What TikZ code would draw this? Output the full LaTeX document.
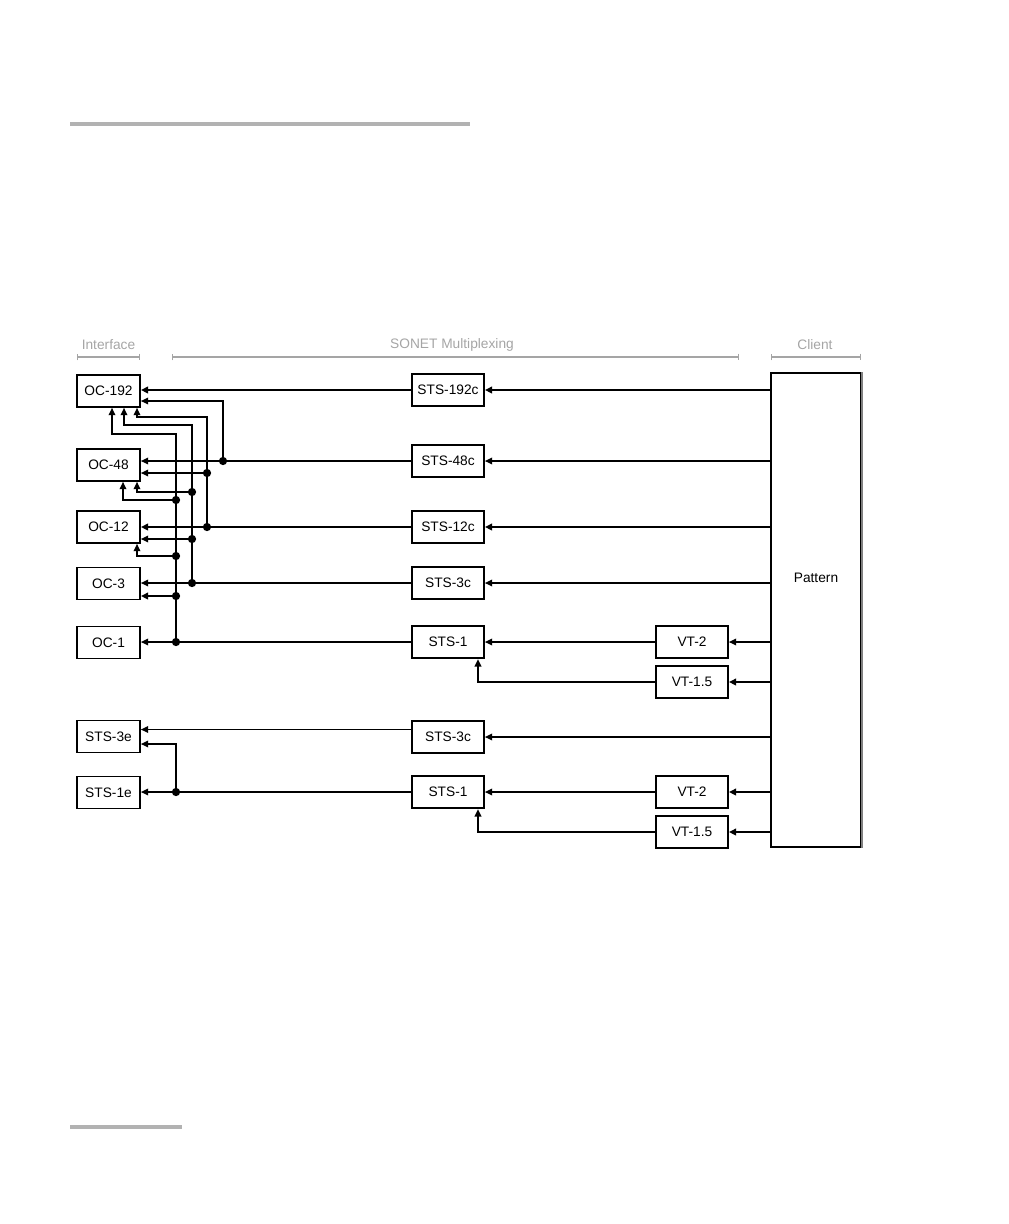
\documentclass[tikz,border=0pt]{standalone}
\usepackage{fontspec}
\setmainfont{Liberation Sans}
\usetikzlibrary{arrows.meta,calc}
\definecolor{hdr}{RGB}{165,165,165}
\definecolor{rulegray}{RGB}{178,178,178}
\begin{document}
\begin{tikzpicture}[x=0.75pt,y=-0.75pt,
  box/.style={draw,line width=1.3pt,inner sep=0pt,font=\fontsize{10.3}{12}\selectfont},
  obox/.style={box,minimum width=47.25pt,minimum height=24pt},
  sbox/.style={box,minimum width=54pt,minimum height=24.5pt},
  ln/.style={line width=1pt},
  thk/.style={line width=1.4pt},
  arr/.style={ln,-{Triangle[length=5.5pt,width=5pt]}},
  jdot/.style={circle,fill,inner sep=0pt,minimum size=6.2pt},
  hdrtxt/.style={text=hdr,font=\fontsize{10.3}{12}\selectfont},
  brk/.style={draw=hdr,line width=1pt,{Bar[width=5pt]}-{Bar[width=5pt]}}]
\useasboundingbox (0,0) rectangle (1008,1224);
% page rules
\fill[rulegray] (70,122) rectangle (470,126);
\fill[rulegray] (70,1125) rectangle (182,1129);
% headers
\node[hdrtxt] (hif) at (108.5,345) {Interface};
\node[hdrtxt] (hsm) at (452,345) {SONET Multiplexing};
\node[hdrtxt] (hcl) at (815,345) {Client};
\coordinate (bif1) at (77,357); \coordinate (bif2) at (140,357);
\coordinate (bsm1) at (172,357); \coordinate (bsm2) at (739,357);
\coordinate (bcl1) at (771,357); \coordinate (bcl2) at (861,357);
\draw[brk] (bif1) -- (bif2);
\draw[brk] (bsm1) -- (bsm2);
\draw[brk] (bcl1) -- (bcl2);
% interface boxes
\node[obox] (oc192) at (108.5,391) {OC-192};
\node[obox] (oc48) at (108.5,465) {OC-48};
\node[obox] (oc12) at (108.5,527) {OC-12};
\node[obox] (oc3) at (108.5,583.5) {OC-3};
\node[obox] (oc1) at (108.5,642.5) {OC-1};
\node[obox] (sts3e) at (108.5,736.5) {STS-3e};
\node[obox] (sts1e) at (108.5,792.5) {STS-1e};
% multiplexing boxes
\node[sbox] (s192) at (448,390) {STS-192c};
\node[sbox] (s48) at (448,461) {STS-48c};
\node[sbox] (s12) at (448,527) {STS-12c};
\node[sbox] (s3) at (448,583) {STS-3c};
\node[sbox] (s1) at (448,642) {STS-1};
\node[sbox] (s3b) at (448,737) {STS-3c};
\node[sbox] (s1b) at (448,792) {STS-1};
\node[sbox] (vt2) at (692,642) {VT-2};
\node[sbox] (vt15) at (692,682) {VT-1.5};
\node[sbox] (vt2b) at (692,792) {VT-2};
\node[sbox] (vt15b) at (692,832) {VT-1.5};
% pattern
\node[draw,line width=1.5pt,inner sep=0pt,minimum width=67.5pt,minimum height=355.5pt] (pat) at (816,610) {};
\draw[draw=gray,line width=1.3pt] (pat.north east) -- (pat.south east);
\node[font=\fontsize{10.3}{12}\selectfont] (pattxt) at (816,578) {Pattern};
% client to multiplexing
\draw[arr,thk] (pat.west |- s192) -- (s192.east);
\draw[arr] (pat.west |- s48) -- (s48.east);
\draw[arr,thk] (pat.west |- s12) -- (s12.east);
\draw[arr] (pat.west |- s3) -- (s3.east);
\draw[arr] (pat.west |- vt2) -- (vt2.east);
\draw[arr,thk] (pat.west |- vt15) -- (vt15.east);
\draw[arr] (pat.west |- s3b) -- (s3b.east);
\draw[arr,thk] (pat.west |- vt2b) -- (vt2b.east);
\draw[arr,thk] (pat.west |- vt15b) -- (vt15b.east);
% VT to STS-1
\draw[arr] (vt2.west) -- (s1.east);
\draw[arr] (vt15.west) -| ($(s1.south)+(30,0)$);
\draw[arr] (vt2b.west) -- (s1b.east);
\draw[arr] (vt15b.west) -| ($(s1b.south)+(30,0)$);
% junction dots
\node[jdot] (d48) at (223,461) {};
\node[jdot] (d12a) at (207,527) {};
\node[jdot] (d12b) at (207,473) {};
\node[jdot] (d3a) at (192,583) {};
\node[jdot] (d3b) at (192,539) {};
\node[jdot] (d3c) at (192,492) {};
\node[jdot] (d1a) at (176,642) {};
\node[jdot] (d1b) at (176,596) {};
\node[jdot] (d1c) at (176,556) {};
\node[jdot] (d1d) at (176,500) {};
\node[jdot] (de) at (176,792) {};
% multiplexing to interface
\draw[arr,thk] (s192.west) -- (oc192.east |- s192);
\draw[arr] (s48.west) -- (oc48.east |- s48);
\draw[arr,thk] (s12.west) -- (oc12.east |- s12);
\draw[arr] (s3.west) -- (oc3.east |- s3);
\draw[arr] (s1.west) -- (oc1.east |- s1);
\coordinate (l3) at ($(s3b.west)+(0,-7.5)$);
\draw[arr] (l3) -- (sts3e.east |- l3);
\draw[arr] (s1b.west) -- (sts1e.east |- s1b);
% STS-48c bus
\draw[arr] (d48.center) |- ($(oc192.east)+(0,10)$);
% STS-12c bus
\draw[arr] (d12a.center) |- ($(oc192.south)+(28.5,9)$) -- ($(oc192.south)+(28.5,0)$);
\draw[arr] (d12b.center) -- (oc48.east |- d12b);
% STS-3c bus
\draw[arr] (d3a.center) |- ($(oc192.south)+(15.5,17)$) -- ($(oc192.south)+(15.5,0)$);
\draw[arr] (d3b.center) -- (oc12.east |- d3b);
\draw[arr] (d3c.center) -| ($(oc48.south)+(28.5,0)$);
% STS-1 bus
\draw[arr] (d1a.center) |- ($(oc192.south)+(3.5,26)$) -- ($(oc192.south)+(3.5,0)$);
\draw[arr,thk] (d1b.center) -- (oc3.east |- d1b);
\draw[arr] (d1c.center) -| ($(oc12.south)+(28.5,0)$);
\draw[arr] (d1d.center) -| ($(oc48.south)+(14.5,0)$);
% STS-1e to STS-3e
\draw[arr] (de.center) |- ($(sts3e.east)+(0,7.5)$);
\end{tikzpicture}
\end{document}
